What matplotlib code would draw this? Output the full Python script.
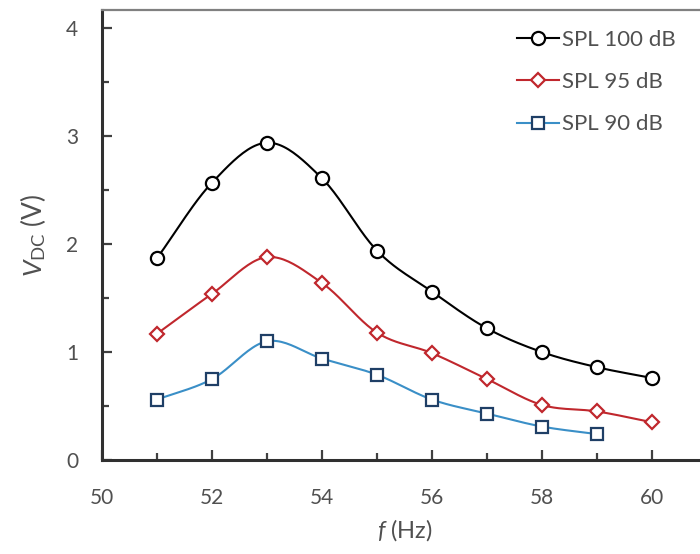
# 周波数 f に対する直流電圧 V_DC (SPL別) のグラフ
import numpy as np
import matplotlib.pyplot as plt
from matplotlib.lines import Line2D
from matplotlib.ticker import MultipleLocator

plt.rcParams['font.family'] = ['Lato', 'DejaVu Sans']
plt.rcParams['mathtext.fontset'] = 'custom'
plt.rcParams['mathtext.it'] = 'Lato:italic'
plt.rcParams['mathtext.rm'] = 'Lato'

# データ
f100 = [51, 52, 53, 54, 55, 56, 57, 58, 59, 60]
v100 = [1.87, 2.57, 2.94, 2.61, 1.94, 1.56, 1.22, 1.00, 0.86, 0.76]
f95 = [51, 52, 53, 54, 55, 56, 57, 58, 59, 60]
v95 = [1.17, 1.54, 1.88, 1.64, 1.18, 0.99, 0.75, 0.51, 0.45, 0.35]
f90 = [51, 52, 53, 54, 55, 56, 57, 58, 59]
v90 = [0.56, 0.75, 1.10, 0.94, 0.79, 0.56, 0.43, 0.31, 0.24]
labels = ['SPL 100 dB', 'SPL 95 dB', 'SPL 90 dB']


def smooth(x, y, n=24):
    # Excel風のなめらかな線 (Catmull-Rom)
    x = np.asarray(x, float)
    y = np.asarray(y, float)
    px = np.concatenate([[2 * x[0] - x[1]], x, [2 * x[-1] - x[-2]]])
    py = np.concatenate([[2 * y[0] - y[1]], y, [2 * y[-1] - y[-2]]])
    t = np.linspace(0, 1, n)
    xs, ys = [], []
    for i in range(1, len(px) - 2):
        for p, out in ((px, xs), (py, ys)):
            p0, p1, p2, p3 = p[i - 1], p[i], p[i + 1], p[i + 2]
            out.extend(0.5 * (2 * p1 + (-p0 + p2) * t
                              + (2 * p0 - 5 * p1 + 4 * p2 - p3) * t ** 2
                              + (-p0 + 3 * p1 - 3 * p2 + p3) * t ** 3))
    return xs, ys


fig = plt.figure(figsize=(7, 5.54), dpi=100)
ax = fig.add_axes([102 / 700, 1 - 460 / 554, 605 / 700, 450 / 554])

series = [
    (f100, v100, 'black', 'o', 'black', 9.5),
    (f95, v95, '#C0272D', 'D', '#C0272D', 7.5),
    (f90, v90, '#3A8FC7', 's', '#1F3F66', 9),
]
handles = []
for (x, y, lc, mk, ec, ms), lab in zip(series, labels):
    sx, sy = smooth(x, y)
    ax.plot(sx, sy, color=lc, lw=1.5, zorder=2)
    ax.plot(x, y, ls='none', marker=mk, ms=ms, mfc='white', mec=ec,
            mew=1.6, zorder=3)
    handles.append(Line2D([], [], color=lc, lw=1.5, marker=mk, ms=ms,
                          mfc='white', mec=ec, mew=1.6))

ax.set_xlim(50, 61)
ax.set_ylim(0, 4.17)
ax.xaxis.set_major_locator(MultipleLocator(2))
ax.xaxis.set_minor_locator(MultipleLocator(1))
ax.yaxis.set_major_locator(MultipleLocator(1))
ax.yaxis.set_minor_locator(MultipleLocator(0.5))
ax.tick_params(which='both', direction='in', colors='#404040',
               labelcolor='#505050', labelsize=15, width=1.6)
ax.tick_params(which='major', length=7)
ax.tick_params(which='minor', length=5)
ax.tick_params(axis='y', which='major', pad=17)
ax.tick_params(axis='x', which='major', pad=20)

for s in ('left', 'bottom'):
    ax.spines[s].set_color('#303030')
    ax.spines[s].set_linewidth(2.2)
ax.spines['top'].set_color('#808080')
ax.spines['top'].set_linewidth(1.6)
ax.spines['right'].set_visible(False)

ax.set_xlabel(r'$f$ (Hz)', fontsize=17, color='#505050', labelpad=7)
ax.set_ylabel(r'$V_{\mathrm{DC}}$ (V)', fontsize=19, color='#505050', labelpad=13)

leg = ax.legend(handles, labels, loc='upper left', bbox_to_anchor=(0.653, 1.0),
                frameon=False, fontsize=16, handlelength=1.9, handletextpad=0.1,
                labelspacing=1.0, labelcolor='#505050')

fig.savefig('out.png', dpi=100)
